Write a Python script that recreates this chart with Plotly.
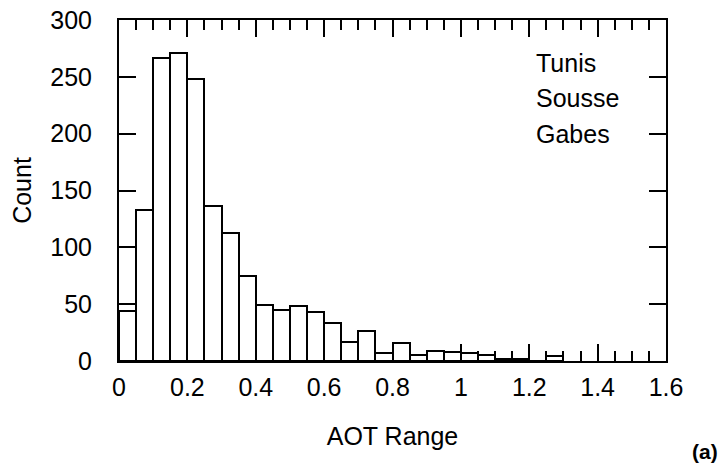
import plotly.graph_objects as go

# AOT bins (0.05 wide), left edges
bin_left = [round(0.05 * i, 2) for i in range(26)]
counts = [44, 133, 267, 271, 248, 136, 113, 75, 49, 45, 48, 43, 33, 17, 26, 7, 16, 5, 9, 8, 7, 5, 2, 2, 0, 4]
legend_names = ["Tunis", "Sousse", "Gabes"]
x_ticks = [0, 0.2, 0.4, 0.6, 0.8, 1, 1.2, 1.4, 1.6]
x_ticklabels = ["0", "0.2", "0.4", "0.6", "0.8", "1", "1.2", "1.4", "1.6"]
y_ticks = [0, 50, 100, 150, 200, 250, 300]

FONT = "Liberation Sans, Arial, sans-serif"

centers = [b + 0.025 for b in bin_left]

fig = go.Figure()
fig.add_trace(go.Bar(
    x=centers, y=counts, width=0.05,
    marker=dict(color="white", line=dict(color="black", width=2)),
    name=legend_names[0], showlegend=False,
))

fig.update_layout(
    width=724, height=467,
    margin=dict(l=119, r=58, t=20, b=106),
    paper_bgcolor="white", plot_bgcolor="white",
    bargap=0,
    font=dict(family=FONT, size=25, color="black"),
)
fig.update_xaxes(
    range=[0, 1.6], tickvals=x_ticks, ticktext=x_ticklabels,
    ticks="inside", ticklen=17, tickwidth=2, tickcolor="black",
    minor=dict(dtick=0.05, tick0=0, ticks="inside", ticklen=10, tickwidth=2, tickcolor="black"),
    showline=True, linewidth=2, linecolor="black", mirror="ticks",
    showgrid=False, zeroline=False, automargin=False,
    ticklabelstandoff=3, ticklabeloverflow="allow",
    tickfont=dict(size=25),
    title=dict(text="AOT Range", font=dict(size=25), standoff=27),
)
fig.update_yaxes(
    range=[0, 300], tickvals=y_ticks,
    ticks="inside", ticklen=17, tickwidth=2, tickcolor="black",
    showline=True, linewidth=2, linecolor="black", mirror="ticks",
    showgrid=False, zeroline=False, automargin=False,
    ticklabelstandoff=20, ticklabeloverflow="allow",
    tickfont=dict(size=25),
    title=dict(text="Count", font=dict(size=25), standoff=12),
)

legend_y = [262.2, 231.4, 199.7]
for name, yy in zip(legend_names, legend_y):
    fig.add_annotation(x=1.214, y=yy, xref="x", yref="y", text=name,
                       showarrow=False, xanchor="left", yanchor="middle",
                       font=dict(size=25, color="black"))

fig.add_annotation(x=1.0, y=-0.265, xref="paper", yref="paper", text="<b>(a)</b>",
                   showarrow=False, xanchor="left", yanchor="middle", xshift=24,
                   font=dict(size=21, color="black"))

fig.write_html("out.html", config={"displayModeBar": False},
               post_script="document.body.style.margin='0';")
